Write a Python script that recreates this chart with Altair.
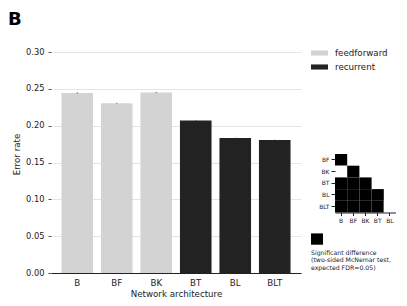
import altair as alt
import pandas as pd

# ---- data ----
archs = ["B", "BF", "BK", "BT", "BL", "BLT"]
error_rate = [0.2445, 0.2305, 0.2450, 0.2070, 0.1832, 0.1805]
error_sem = [0.0008, 0.0006, 0.0008, 0.0008, 0.0005, 0.0005]
arch_type = ["feedforward", "feedforward", "feedforward", "recurrent", "recurrent", "recurrent"]
type_names = ["feedforward", "recurrent"]
type_colors = ["#d3d3d3", "#222222"]
y_ticks = [0.0, 0.05, 0.10, 0.15, 0.20, 0.25, 0.30]

row_labels = ["BF", "BK", "BT", "BL", "BLT"]
col_labels = ["B", "BF", "BK", "BT", "BL"]
sig_rows = ["BF", "BK", "BK", "BT", "BT", "BT", "BL", "BL", "BL", "BL", "BLT", "BLT", "BLT", "BLT", "BLT"]
sig_cols = ["B", "B", "BF", "B", "BF", "BK", "B", "BF", "BK", "BT", "B", "BF", "BK", "BT", "BL"]
sig_vals = [1, 0, 1, 1, 1, 1, 1, 1, 1, 1, 1, 1, 1, 1, 0]
sig_note = ["Significant difference", "(two-sided McNemar test,", "expected FDR=0.05)"]
panel_label = ["B"]

FONT = "DejaVu Sans"

df = pd.DataFrame({
    "arch": archs,
    "err": error_rate,
    "type": arch_type,
    "lo": [e - s for e, s in zip(error_rate, error_sem)],
    "hi": [e + s for e, s in zip(error_rate, error_sem)],
})

x_axis = alt.Axis(title="Network architecture", labelAngle=0, tickSize=0, labelPadding=5,
                  domainColor="#222222", domainWidth=1.2, grid=False, labelFontSize=8.7,
                  titleFontSize=8.7, titlePadding=3, titleFontWeight="normal",
                  labelColor="#222222", titleColor="#222222")
x_scale = alt.Scale(paddingInner=0.2, paddingOuter=0.265)
y_axis = alt.Axis(values=y_ticks, format=".2f", title="Error rate", grid=True,
                  gridColor="#e4e4e4", gridWidth=1, domain=False, tickColor="#555555",
                  tickSize=3, labelPadding=4, labelFontSize=8.3, titleFontSize=8.7,
                  titleFontWeight="normal", titleX=-30, titleY=102,
                  labelOverlap=False, labelColor="#222222", titleColor="#222222")
y_scale = alt.Scale(domain=[0, 0.30], nice=False)

bars = alt.Chart(df).mark_bar().encode(
    x=alt.X("arch:N", sort=archs, scale=x_scale, axis=x_axis),
    y=alt.Y("err:Q", scale=y_scale, axis=y_axis),
    color=alt.Color("type:N", scale=alt.Scale(domain=type_names, range=type_colors),
                    legend=alt.Legend(title=None, orient="none", legendX=260, legendY=-7.5,
                                      symbolType="M-1,-0.3H1V0.3H-1Z", symbolSize=289,
                                      symbolStrokeWidth=0, labelFontSize=8.7, labelOffset=7,
                                      rowPadding=-4, padding=0, labelColor="#222222",
                                      labelFont=FONT)),
)

errs = alt.Chart(df).mark_rule(color="#555555", strokeWidth=1).encode(
    x=alt.X("arch:N", sort=archs, scale=x_scale, axis=x_axis),
    y=alt.Y("lo:Q", scale=y_scale, axis=y_axis),
    y2="hi:Q",
)

label_b = alt.Chart(pd.DataFrame({"t": panel_label})).mark_text(
    fontSize=18, fontWeight="bold", align="left", baseline="top", color="black", font=FONT
).encode(x=alt.value(-43), y=alt.value(-41), text="t:N")

main = alt.layer(bars, errs, label_b).properties(width=250, height=221)

# ---- inset significance matrix ----
sig_df = pd.DataFrame({"row": sig_rows, "col": sig_cols, "sig": sig_vals})
cells = alt.Chart(sig_df).mark_rect().encode(
    x=alt.X("col:N", sort=col_labels,
            scale=alt.Scale(domain=col_labels, paddingInner=0, paddingOuter=0),
            axis=alt.Axis(title=None, labelAngle=0, labelFontSize=6, tickSize=3, labelPadding=2,
                          domainColor="#222222", tickColor="#222222", labelColor="#222222")),
    y=alt.Y("row:N", sort=row_labels,
            scale=alt.Scale(domain=row_labels, paddingInner=0, paddingOuter=0),
            axis=alt.Axis(title=None, domain=False, labelFontSize=6, tickSize=4, labelPadding=2,
                          tickColor="#222222", labelColor="#222222")),
    color=alt.Color("sig:N", scale=alt.Scale(domain=[0, 1], range=["white", "black"]), legend=None),
)

sig_key = alt.Chart(pd.DataFrame({"k": [1]})).mark_rect(color="black").encode(
    x=alt.value(-24), x2=alt.value(-12), y=alt.value(79.4), y2=alt.value(90.7)
)
sig_text = alt.Chart(pd.DataFrame({"k": [1]})).mark_text(
    text=sig_note, align="left", baseline="top", fontSize=6.2, lineHeight=7.3,
    color="#222222", font=FONT
).encode(x=alt.value(-24), y=alt.value(96))

inset = alt.layer(cells, sig_key, sig_text).properties(width=61, height=58.5)

spacer = alt.Chart(pd.DataFrame({"k": [0]})).mark_point(opacity=0).encode(
    x=alt.value(0), y=alt.value(0)
).properties(width=61, height=101.3)

right = alt.vconcat(spacer, inset, spacing=0, bounds="flush").resolve_scale(color="independent")

chart = alt.hconcat(
    main, right, spacing=34, bounds="flush",
    padding={"left": 0, "top": 3, "right": 0, "bottom": 0},
).resolve_scale(color="independent").configure(font=FONT).configure_view(stroke=None)

chart.save("out.html", embed_options={"renderer": "svg", "actions": False})
